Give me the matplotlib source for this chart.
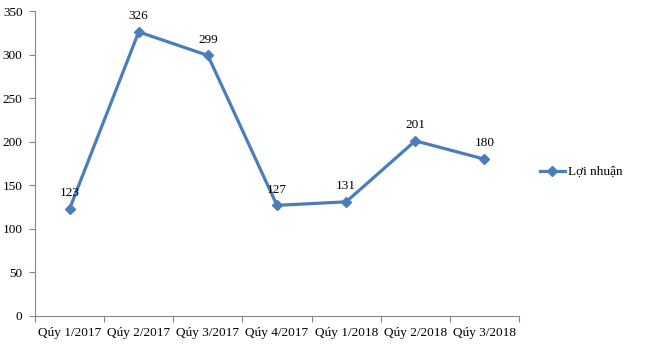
import matplotlib
matplotlib.use("Agg")
import matplotlib.pyplot as plt

quarters = ["Qúy 1/2017", "Qúy 2/2017", "Qúy 3/2017", "Qúy 4/2017",
            "Qúy 1/2018", "Qúy 2/2018", "Qúy 3/2018"]
profit = [123, 326, 299, 127, 131, 201, 180]
series_name = "Lợi nhuận"

plt.rcParams['font.family'] = ['Liberation Serif', 'DejaVu Serif']
plt.rcParams['font.size'] = 9.5

fig = plt.figure(figsize=(6.6, 3.46), dpi=100)
ax = fig.add_axes([35/660, 1 - 316/346, (519 - 35)/660, (316 - 11)/346])

blue = "#4a7ebb"
xs = list(range(len(quarters)))
ax.plot(xs, profit, color=blue, linewidth=2.3, marker="D", markersize=5,
        label=series_name)
for x, v in zip(xs, profit):
    ax.annotate(str(v), (x, v), xytext=(0, 7), textcoords="offset points",
                ha="center", va="bottom")

ax.set_xlim(-0.5, len(quarters) - 0.5)
ax.set_ylim(0, 350)
ax.set_yticks(range(0, 351, 50))
ax.set_xticks([i - 0.5 for i in range(len(quarters) + 1)], minor=False)
ax.set_xticklabels([])
ax.set_xticks(xs, minor=True)
ax.set_xticklabels(quarters, minor=True)
ax.tick_params(axis="x", which="minor", length=0, pad=8)
ax.tick_params(axis="x", which="major", length=4, color="#868686")
ax.tick_params(axis="y", length=4, color="#868686", pad=5)

for s in ["top", "right"]:
    ax.spines[s].set_visible(False)
for s in ["left", "bottom"]:
    ax.spines[s].set_color("#868686")

fig.legend(loc="center left", bbox_to_anchor=(528/660, 1 - 172/346),
           frameon=False, handlelength=1.9, handletextpad=0.2)

fig.savefig("out.png", dpi=100)
